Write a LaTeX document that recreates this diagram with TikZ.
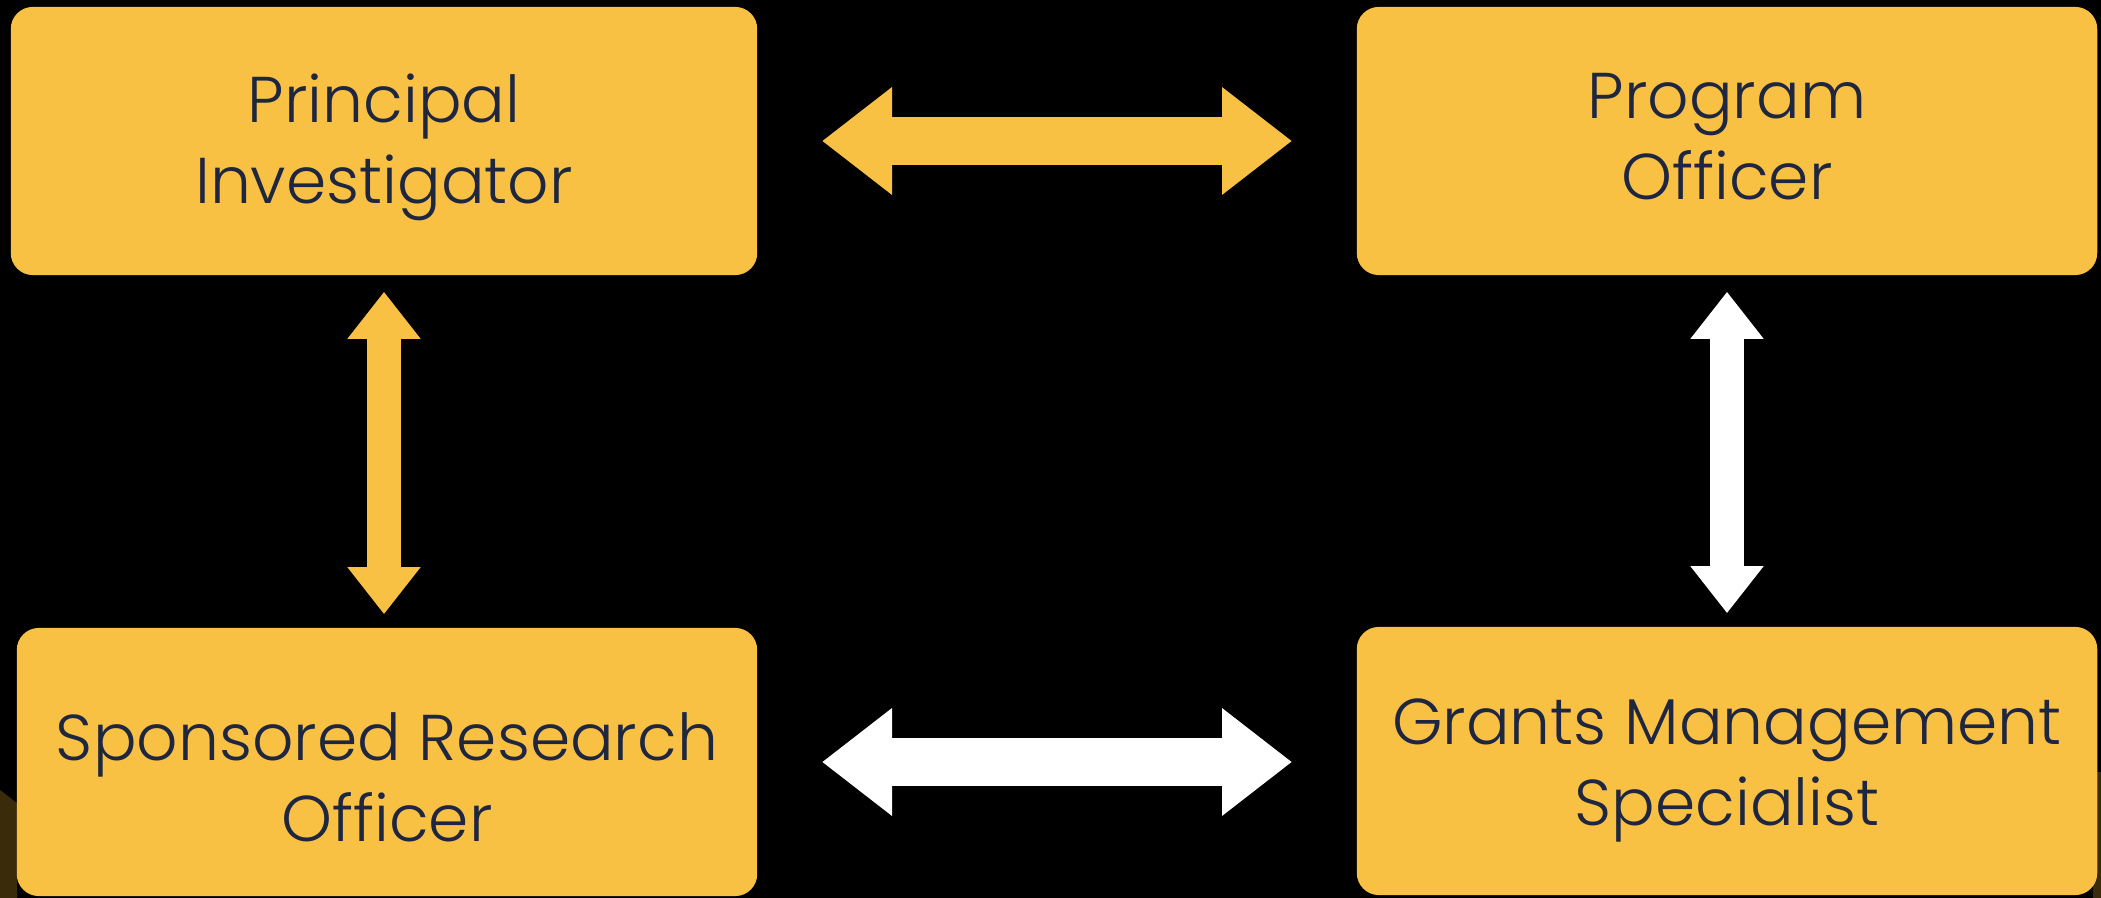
\documentclass[tikz,border=0pt]{standalone}
\usepackage{fontspec}
\setmainfont{Poppins}[UprightFont=* Light]
\usetikzlibrary{arrows.meta}
\definecolor{boxyellow}{HTML}{F9C143}
\definecolor{textnavy}{HTML}{1E2640}
\definecolor{darkbrown}{HTML}{3A2C0A}
% fixed line heights so the text sits where it should in each box
\newcommand{\padtop}[1]{\rule{0pt}{#1}}
\newcommand{\padbot}{\rule[-0.4cm]{0pt}{0pt}}

\begin{document}
\begin{tikzpicture}[x=0.01cm, y=-0.01cm,
   role/.style={fill=boxyellow, rounded corners=0.22cm, minimum width=7.4cm,
      minimum height=2.68cm, align=center, text=textnavy, inner sep=0pt,
      font=\fontsize{18.4}{23.3}\selectfont},
   widearrow/.style={line width=0.48cm,
      {Triangle[length=0.7cm,width=1.03cm]}-{Triangle[length=0.7cm,width=1.03cm]},
      shorten <=0.64cm, shorten >=0.64cm},
   tallarrow/.style={line width=0.34cm,
      {Triangle[length=0.47cm,width=0.7cm]}-{Triangle[length=0.47cm,width=0.7cm]},
      shorten <=0.16cm, shorten >=0.13cm}]

   \fill[black] (0,0) rectangle (2101,898);
   \fill[darkbrown] (0,790) -- (17,803) -- (17,898) -- (0,898) -- cycle;
   \fill[darkbrown] (2093,772) rectangle (2101,898);

   \node[role, minimum width=7.46cm] (pi) at (384,141) {\padtop{0.84cm}Principal\\Investigator\padbot};
   \node[role] (po) at (1727,141) {\padtop{0.76cm}Program\\Officer\padbot};
   \node[role] (sro) at (387,762) {\padtop{1.18cm}Sponsored Research\\Officer\padbot};
   \node[role] (gms) at (1727,761) {\padtop{0.88cm}Grants Management\\Specialist\padbot};

   \draw[boxyellow, widearrow] (pi) -- (po);
   \draw[white, widearrow] (sro.east) -- (sro.east -| gms.west);
   \draw[boxyellow, tallarrow] (pi.south) -- (pi.south |- sro.north);
   \draw[white, tallarrow] (po) -- (gms);

\end{tikzpicture}
\end{document}
